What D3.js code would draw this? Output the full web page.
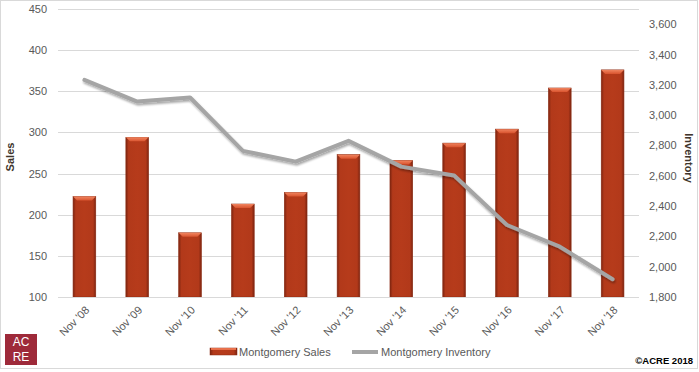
<!DOCTYPE html>
<html><head><meta charset="utf-8">
<script src="https://cdn.jsdelivr.net/npm/d3@7"></script>
<style>body{margin:0;background:#fff}svg{display:block;font-family:"Liberation Sans",Arial,sans-serif}</style>
</head><body>
<svg id="c" width="699" height="372"></svg>
<script>
const categories = ["Nov '08","Nov '09","Nov '10","Nov '11","Nov '12","Nov '13","Nov '14","Nov '15","Nov '16","Nov '17","Nov '18"];
const sales = [222, 294, 178, 213, 227, 273, 266, 287, 304, 354, 376];
const inventory = [3232, 3089, 3116, 2764, 2693, 2830, 2660, 2601, 2275, 2132, 1917];
const salesTicks = [100,150,200,250,300,350,400,450];
const invTicks = [1800,2000,2200,2400,2600,2800,3000,3200,3400,3600];

const svg = d3.select("#c");
const L = 58, R = 639, T = 9, B = 297;
const x = d3.scaleBand().domain(categories).range([L, R]).paddingInner(0.57).paddingOuter(0.285);
const yL = d3.scaleLinear().domain([100, 450]).range([B, T]);
const yR = d3.scaleLinear().domain([1800, 3700]).range([B, T]);

const defs = svg.append("defs");
const g1 = defs.append("linearGradient").attr("id","barg").attr("x1","0").attr("x2","1").attr("y1","0").attr("y2","0");
[[0,"#7c2410"],[0.12,"#b2391a"],[0.5,"#b63b1b"],[0.88,"#b2391a"],[1,"#7c2410"]].forEach(s=>g1.append("stop").attr("offset",s[0]).attr("stop-color",s[1]));
const g2 = defs.append("linearGradient").attr("id","topg").attr("x1","0").attr("x2","0").attr("y1","0").attr("y2","1");
[[0,"#f0845f"],[1,"#d9542f"]].forEach(s=>g2.append("stop").attr("offset",s[0]).attr("stop-color",s[1]));
const f = defs.append("filter").attr("id","sh").attr("x","-10%").attr("y","-10%").attr("width","120%").attr("height","130%");
f.append("feGaussianBlur").attr("in","SourceAlpha").attr("stdDeviation",1.2).attr("result","b");
f.append("feOffset").attr("in","b").attr("dx",1).attr("dy",2).attr("result","o");
f.append("feComponentTransfer").attr("in","o").attr("result","o2").append("feFuncA").attr("type","linear").attr("slope",0.35);
const m = f.append("feMerge"); m.append("feMergeNode").attr("in","o2"); m.append("feMergeNode").attr("in","SourceGraphic");

// chart border
svg.append("rect").attr("x",0.5).attr("y",0.5).attr("width",697).attr("height",368).attr("fill","none").attr("stroke","#d9d9d9");

// gridlines
svg.append("g").selectAll("line").data(salesTicks).join("line")
  .attr("x1",L).attr("x2",R).attr("y1",d=>Math.round(yL(d))+0.5).attr("y2",d=>Math.round(yL(d))+0.5)
  .attr("stroke","#d9d9d9").attr("stroke-width",1);

// left axis
const axL = svg.append("g").attr("transform",`translate(${L},0)`)
  .call(d3.axisLeft(yL).tickValues(salesTicks).tickSize(0).tickPadding(11));
axL.select(".domain").remove();
axL.selectAll("text").attr("fill","#595959").attr("font-size",11).attr("font-family","Liberation Sans, Arial, sans-serif");

// right axis
const axR = svg.append("g").attr("transform",`translate(${R},0)`)
  .call(d3.axisRight(yR).tickValues(invTicks).tickSize(0).tickPadding(10).tickFormat(d3.format(",")));
axR.select(".domain").remove();
axR.selectAll("text").attr("fill","#595959").attr("font-size",11).attr("font-family","Liberation Sans, Arial, sans-serif");

// bars
const bars = svg.append("g").selectAll("g").data(categories).join("g");
bars.append("rect").attr("x",d=>x(d)).attr("width",x.bandwidth())
  .attr("y",(d,i)=>yL(sales[i])).attr("height",(d,i)=>B-yL(sales[i]))
  .attr("fill","url(#barg)").attr("stroke","#8a2a12").attr("stroke-width",0.6);
bars.append("path").attr("d",(d,i)=>{
  const x0=x(d), x1=x(d)+x.bandwidth(), y0=yL(sales[i]), h=4;
  return `M${x0},${y0}L${x1},${y0}L${x1-4},${y0+h}L${x0+4},${y0+h}Z`;
}).attr("fill","url(#topg)");

// line
const line = d3.line().x((d,i)=>x(categories[i])+x.bandwidth()/2).y(d=>yR(d));
svg.append("path").datum(inventory).attr("d",line).attr("fill","none")
  .attr("stroke","#a5a5a5").attr("stroke-width",4).attr("stroke-linejoin","round").attr("stroke-linecap","round")
  .attr("filter","url(#sh)");

// bottom axis line
svg.append("line").attr("x1",L).attr("x2",R).attr("y1",B+0.5).attr("y2",B+0.5).attr("stroke","#d9d9d9");

// x labels
svg.append("g").selectAll("text").data(categories).join("text")
  .attr("transform",d=>`translate(${x(d)+x.bandwidth()/2+3},${B+11}) rotate(-45)`)
  .attr("text-anchor","end").attr("dy","0.35em")
  .attr("font-size",11).attr("fill","#595959").text(d=>d);

// axis titles
svg.append("text").attr("transform","translate(14,157) rotate(-90)").attr("text-anchor","middle")
  .attr("font-size",11).attr("font-weight","bold").attr("fill","#40352c").text("Sales");
svg.append("text").attr("transform","translate(685,158) rotate(90)").attr("text-anchor","middle")
  .attr("font-size",11).attr("font-weight","bold").attr("fill","#40352c").text("Inventory");

// legend
const lg = svg.append("g");
lg.append("rect").attr("x",210).attr("y",348).attr("width",27).attr("height",7).attr("fill","url(#barg)").attr("stroke","#8a2a12").attr("stroke-width",0.5);
lg.append("rect").attr("x",211).attr("y",348).attr("width",25).attr("height",2).attr("fill","#e8704b");
lg.append("text").attr("x",239).attr("y",352).attr("dy","0.35em").attr("font-size",11).attr("fill","#595959").text("Montgomery Sales");
lg.append("line").attr("x1",352).attr("x2",378).attr("y1",352).attr("y2",352).attr("stroke","#a5a5a5").attr("stroke-width",4);
lg.append("text").attr("x",381).attr("y",352).attr("dy","0.35em").attr("font-size",11).attr("fill","#595959").text("Montgomery Inventory");

// logo
svg.append("rect").attr("x",5).attr("y",334).attr("width",32).attr("height",31).attr("fill","#9e2a3a");
svg.append("text").attr("x",21).attr("y",346).attr("text-anchor","middle").attr("font-size",12).attr("fill","#fff").attr("font-family","Liberation Sans, Arial, sans-serif").text("AC");
svg.append("text").attr("x",21).attr("y",361).attr("text-anchor","middle").attr("font-size",12).attr("fill","#fff").attr("font-family","Liberation Sans, Arial, sans-serif").text("RE");

// copyright
svg.append("text").attr("x",693).attr("y",364).attr("text-anchor","end").attr("font-size",9.5).attr("font-weight","bold").attr("fill","#000")
  .text("©ACRE 2018");
</script>
</body></html>
